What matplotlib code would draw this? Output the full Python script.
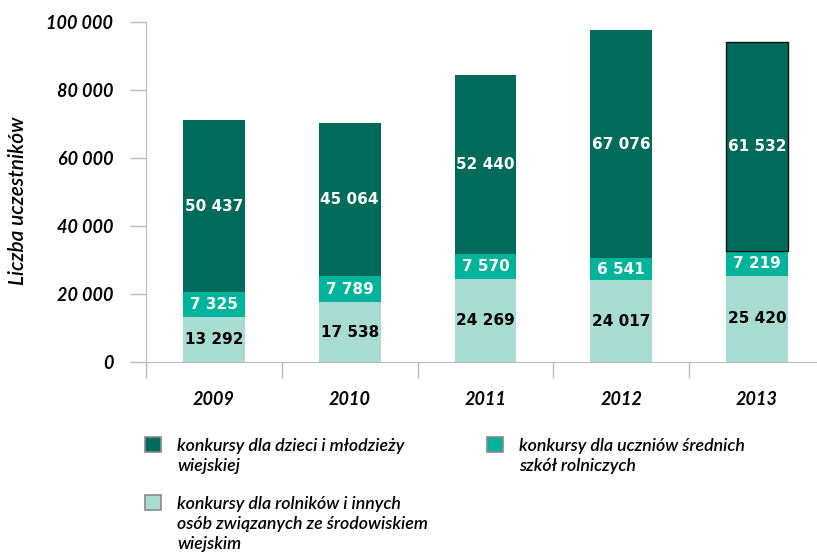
import matplotlib.pyplot as plt
from matplotlib.patches import Rectangle
import numpy as np

years = ['2009', '2010', '2011', '2012', '2013']
rolnicy = [13292, 17538, 24269, 24017, 25420]
uczniowie = [7325, 7789, 7570, 6541, 7219]
dzieci = [50437, 45064, 52440, 67076, 61532]

labels = ['konkursy dla dzieci i młodzieży\nwiejskiej',
          'konkursy dla rolników i innych\nosób związanych ze środowiskiem\nwiejskim',
          'konkursy dla uczniów średnich\nszkół rolniczych']

c_dark = '#006b5a'
c_mid = '#00b39b'
c_light = '#a8dcd2'

def fmt(v):
    return f'{v:,}'.replace(',', ' ')

W, H = 817, 556
fig = plt.figure(figsize=(8.17, 5.56), dpi=100)
ax = fig.add_axes([146/W, 1 - 362/H, (825-146)/W, 340/H])

x = np.arange(len(years))
w = 0.455
b1 = ax.bar(x, rolnicy, w, color=c_light)
b2 = ax.bar(x, uczniowie, w, bottom=rolnicy, color=c_mid)
bottom2 = np.array(rolnicy) + np.array(uczniowie)
b3 = ax.bar(x, dzieci, w, bottom=bottom2, color=c_dark)
b3[-1].set_edgecolor('#111111')
b3[-1].set_linewidth(1.0)

lab_font = dict(family='DejaVu Sans', fontsize=11, fontweight='bold')
for i in range(len(years)):
    ax.text(x[i], rolnicy[i] / 2, fmt(rolnicy[i]), ha='center', va='center',
            color='black', **lab_font)
    ax.text(x[i], rolnicy[i] + uczniowie[i] / 2, fmt(uczniowie[i]), ha='center', va='center',
            color='white', **lab_font)
    ax.text(x[i], bottom2[i] + dzieci[i] / 2, fmt(dzieci[i]), ha='center', va='center',
            color='white', **lab_font)

tick_font = dict(family='Lato', size=13, weight='bold', style='italic')
ax.set_ylim(0, 100000)
ax.set_xlim(-0.5, 4.5)
ax.set_yticks(range(0, 100001, 20000))
ax.set_yticklabels([fmt(v) for v in range(0, 100001, 20000)], fontdict=tick_font)
ax.set_xticks(np.arange(-0.5, 4.6, 1))
ax.set_xticklabels([])
ax.tick_params(axis='y', length=11.5, width=1, color='#bbbbbb', pad=12)
ax.tick_params(axis='x', length=11.5, width=1, color='#bbbbbb')
for i, yr in enumerate(years):
    ax.text(x[i], -11000, yr, ha='center', va='center', **tick_font)

for s in ['top', 'right']:
    ax.spines[s].set_visible(False)
ax.spines['left'].set_color('#bbbbbb')
ax.spines['bottom'].set_color('#bbbbbb')

fig.text(18/W, 1 - 201/H, 'Liczba uczestników', family='Lato', fontsize=15,
         fontstyle='italic', fontweight='semibold', rotation=90,
         ha='center', va='center')

# legend drawn by hand so squares sit next to the first line of each entry
leg_entries = [(c_dark, labels[0], 145, 437),
               (c_light, labels[1], 145, 495),
               (c_mid, labels[2], 487, 437)]
for col, txt, lx, ly in leg_entries:
    fig.patches.append(Rectangle((lx/W, 1 - (ly + 15)/H), 16/W, 15/H,
                                 transform=fig.transFigure, facecolor=col,
                                 edgecolor='#8a8a8a', linewidth=1.2))
    fig.text((lx + 32)/W, 1 - (ly + 1)/H, txt, family='Lato', fontsize=12.8,
             fontstyle='italic', fontweight='semibold', ha='left', va='top',
             linespacing=1.3)

fig.savefig('out.png', dpi=100)
